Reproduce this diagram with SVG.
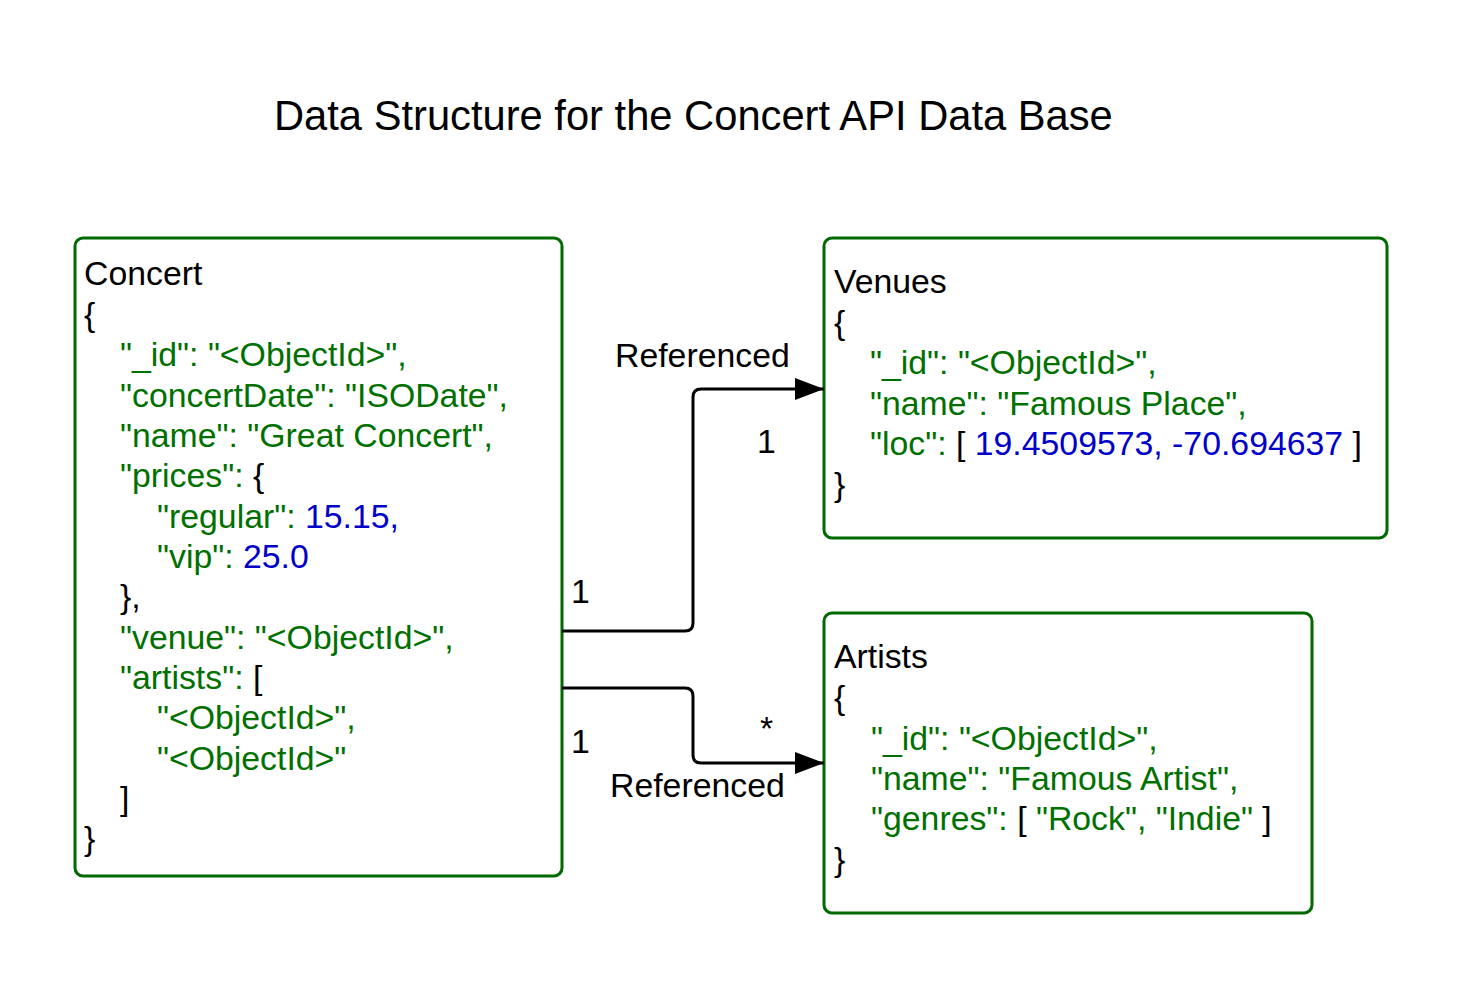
<svg xmlns="http://www.w3.org/2000/svg" width="1463" height="988" viewBox="0 0 1463 988">
<defs>
<style>
.box{fill:#ffffff;stroke:#006a00;stroke-width:3}
.t{font-family:"Liberation Sans",Arial,sans-serif;font-size:33.8px;fill:#000000}
.g{fill:#007000}
.b{fill:#0000c8}
.k{fill:#000000}
.title{font-family:"Liberation Sans",Arial,sans-serif;font-size:41.7px;fill:#000000}
.conn{fill:none;stroke:#000000;stroke-width:3}
</style>
<marker id="arr" viewBox="0 0 29 22" refX="29" refY="11" markerWidth="29" markerHeight="22" markerUnits="userSpaceOnUse" orient="auto">
<path d="M0,0 L29,11 L0,22 Z" fill="#000000"/>
</marker>
</defs>
<rect width="1463" height="988" fill="#ffffff"/>
<text class="title" x="274" y="130">Data Structure for the Concert API Data Base</text>

<g id="concert">
<rect class="box" x="75" y="238" width="487" height="638" rx="8"/>
<text class="t" x="84" y="285">Concert</text>
<text class="t" x="84" y="325.5">{</text>
<text class="t g" x="120" y="366">"_id": "&lt;ObjectId&gt;",</text>
<text class="t g" x="120" y="406.5">"concertDate": "ISODate",</text>
<text class="t g" x="120" y="447">"name": "Great Concert",</text>
<text class="t" x="120" y="487"><tspan class="g">"prices": </tspan>{</text>
<text class="t" x="157" y="527.5"><tspan class="g">"regular": </tspan><tspan class="b">15.15,</tspan></text>
<text class="t" x="157" y="568"><tspan class="g">"vip": </tspan><tspan class="b">25.0</tspan></text>
<text class="t" x="120" y="608">},</text>
<text class="t g" x="120" y="648.5">"venue": "&lt;ObjectId&gt;",</text>
<text class="t" x="120" y="689"><tspan class="g">"artists": </tspan>[</text>
<text class="t g" x="157" y="729">"&lt;ObjectId&gt;",</text>
<text class="t g" x="157" y="769.5">"&lt;ObjectId&gt;"</text>
<text class="t" x="120" y="810">]</text>
<text class="t" x="84" y="850">}</text>
</g>

<g id="venues">
<rect class="box" x="824" y="238" width="563" height="300" rx="8"/>
<text class="t" x="834" y="293">Venues</text>
<text class="t" x="834" y="334">{</text>
<text class="t g" x="870" y="374">"_id": "&lt;ObjectId&gt;",</text>
<text class="t g" x="870" y="414.5">"name": "Famous Place",</text>
<text class="t" x="870" y="455"><tspan class="g">"loc": </tspan>[ <tspan class="b">19.4509573, -70.694637</tspan> ]</text>
<text class="t" x="834" y="495.5">}</text>
</g>

<g id="artists">
<rect class="box" x="824" y="613" width="488" height="300" rx="8"/>
<text class="t" x="834" y="668">Artists</text>
<text class="t" x="834" y="709">{</text>
<text class="t g" x="871" y="749.5">"_id": "&lt;ObjectId&gt;",</text>
<text class="t g" x="871" y="790">"name": "Famous Artist",</text>
<text class="t" x="871" y="830"><tspan class="g">"genres": </tspan>[ <tspan class="g">"Rock", "Indie"</tspan> ]</text>
<text class="t" x="834" y="870.5">}</text>
</g>

<g id="connectors">
<path class="conn" d="M562,631 H685 Q693,631 693,623 V397 Q693,389 701,389 H824" marker-end="url(#arr)"/>
<path class="conn" d="M562,688 H685 Q693,688 693,696 V755 Q693,763 701,763 H824" marker-end="url(#arr)"/>
<text class="t" x="615" y="367">Referenced</text>
<text class="t" x="757" y="453">1</text>
<text class="t" x="571" y="603">1</text>
<text class="t" x="571" y="753">1</text>
<text class="t" x="760" y="740">*</text>
<text class="t" x="610" y="797">Referenced</text>
</g>
</svg>
